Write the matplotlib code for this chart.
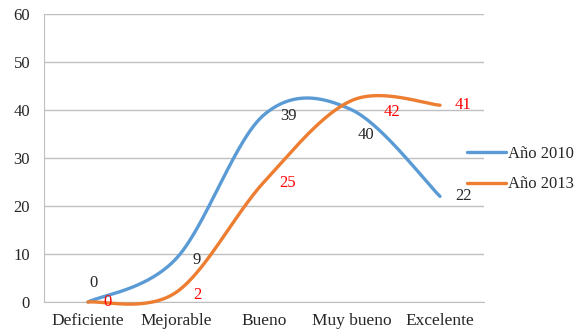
import numpy as np
import matplotlib
matplotlib.use("Agg")
import matplotlib.pyplot as plt

categories = ["Deficiente", "Mejorable", "Bueno", "Muy bueno", "Excelente"]
series_2010 = [0, 9, 39, 40, 22]
series_2013 = [0, 2, 25, 42, 41]
yticks = [0, 10, 20, 30, 40, 50, 60]

# label offsets in pixels (dx, dy)
off_2010 = [(5, 19), (21, -1), (24, -1), (14, -25), (23, 0)]
off_2013 = [(20, 0), (21, -3), (24, -1), (40, -12), (23, 0)]

plt.rcParams['font.family'] = ['Liberation Serif', 'DejaVu Serif']


def smooth(xs, ys, n=60):
    xs = np.asarray(xs, float)
    ys = np.asarray(ys, float)
    P = np.column_stack([xs, ys])
    m = len(P)
    out = []
    for i in range(m - 1):
        p0 = P[i]
        p3 = P[i + 1]
        prev = P[i - 1] if i > 0 else P[i]
        nxt = P[i + 2] if i + 2 < m else P[i + 1]
        c1 = p0 + (p3 - prev) / 6.0
        c2 = p3 - (nxt - p0) / 6.0
        t = np.linspace(0, 1, n)[:, None]
        seg = ((1 - t) ** 3) * p0 + 3 * ((1 - t) ** 2) * t * c1 + 3 * (1 - t) * t ** 2 * c2 + t ** 3 * p3
        out.append(seg if i == 0 else seg[1:])
    arr = np.vstack(out)
    return arr[:, 0], arr[:, 1]


fig = plt.figure(figsize=(5.82, 3.33), dpi=100)
ax = fig.add_axes([44 / 582, 1 - 302 / 333, 440 / 582, 288 / 333])

x = np.arange(len(categories))
blue = '#5B9BD5'
orange = '#ED7D31'

bx, by = smooth(x, series_2010)
ox, oy = smooth(x, series_2013)
ax.plot(bx, by, color=blue, lw=2.4, label='Año 2010', solid_capstyle='round', zorder=3, clip_on=False)
ax.plot(ox, oy, color=orange, lw=2.4, label='Año 2013', solid_capstyle='round', zorder=3, clip_on=False)

for xi, v, (dx, dy) in zip(x, series_2010, off_2010):
    ax.annotate(str(v), (xi, v), xytext=(dx, dy), textcoords='offset pixels',
                ha='center', va='center', fontsize=12, color='#262626', zorder=4)
for xi, v, (dx, dy) in zip(x, series_2013, off_2013):
    ax.annotate(str(v), (xi, v), xytext=(dx, dy), textcoords='offset pixels',
                ha='center', va='center', fontsize=12, color='#FF0000', zorder=4)

ax.set_xlim(-0.5, len(categories) - 0.5)
ax.set_ylim(0, 60)
ax.set_yticks(yticks)
ax.set_xticks(x)
ax.set_xticklabels(categories)
ax.grid(axis='y', color='#BFBFBF', lw=1)
ax.set_axisbelow(True)
for s in ['top', 'right']:
    ax.spines[s].set_visible(False)
for s in ['left', 'bottom']:
    ax.spines[s].set_color('#BFBFBF')
ax.tick_params(length=0, colors='#262626')
ax.tick_params(axis='y', pad=10, labelsize=12)
ax.tick_params(axis='x', pad=8, labelsize=12.5)

leg = fig.legend(loc='center left', bbox_to_anchor=(467 / 582, 1 - 169 / 333), frameon=False,
                 fontsize=12, handlelength=2.35, handletextpad=0.12, labelspacing=0.9,
                 borderpad=0, borderaxespad=0)
for t in leg.get_texts():
    t.set_color('#262626')
for l in leg.get_lines():
    l.set_linewidth(2.4)

fig.savefig('out.png', dpi=100)
